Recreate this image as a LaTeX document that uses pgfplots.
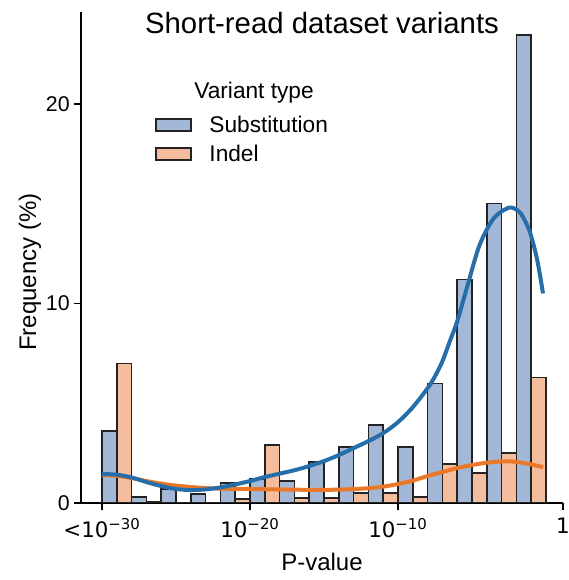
\documentclass[border=0pt]{standalone}
\usepackage{fontspec}
\setmainfont{Liberation Sans}
\newfontfamily\dejavu{DejaVu Sans}
\usepackage{pgfplots}
\pgfplotsset{compat=1.18}
\definecolor{subfill}{RGB}{162,184,214}
\definecolor{indfill}{RGB}{244,190,158}
\definecolor{subline}{RGB}{37,110,170}
\definecolor{indline}{RGB}{235,120,40}
\definecolor{edge}{RGB}{35,35,35}
\begin{document}
\begin{tikzpicture}
\begin{axis}[
  name=ax,
  scale only axis, width=361.5pt, height=368.25pt,
  xmin=-31.42, xmax=1.15, ymin=0, ymax=24.6,
  axis lines*=left,
  axis line style={-, line width=1.1pt, black},
  tick style={line width=1.1pt, black},
  tick align=outside, major tick length=5pt,
  xtick={-30,-20,-10,1.15},
  xticklabels={<10\textsuperscript{−30},10\textsuperscript{−20},10\textsuperscript{−10},1},
  xticklabel style={font=\dejavu\fontsize{16}{19}\selectfont, yshift=-3pt},
  ytick={0,10,20},
  yticklabel style={font=\fontsize{16}{19}\selectfont},
  /pgf/number format/assume math mode=true,
  title={Short-read dataset variants},
  title style={at={(axis description cs:0.5,1)}, anchor=north, yshift=-3pt, font=\fontsize{22}{26}\selectfont},
  xlabel={P-value},
  ylabel={Frequency (\%)},
  xlabel style={font=\fontsize{18}{21}\selectfont, yshift=-4pt},
  ylabel style={font=\fontsize{18}{21}\selectfont, at={(axis description cs:-0.106,0.47)}, anchor=center},
  legend style={draw=none, fill=none, at={(axis description cs:0.1535,0.793)}, anchor=north west,
    font=\fontsize{17}{20}\selectfont, row sep=5pt, inner sep=0pt,
    nodes={inner sep=1.5pt}, cells={anchor=west}},
]
\addplot[ybar, bar width=1, bar shift=0pt, fill=subfill, draw=edge, line width=1.1pt,
  legend image code/.code={\draw[fill=subfill, draw=edge, line width=1.2pt] (0pt,-4.5pt) rectangle (26pt,4.5pt); \path (38pt,0pt);}]
coordinates {(-29.5,3.6) (-27.5,0.3) (-25.5,0.7) (-23.5,0.45) (-21.5,1.0) (-19.5,1.2) (-17.5,1.1) (-15.5,2.05) (-13.5,2.8) (-11.5,3.9) (-9.5,2.8) (-7.5,6.0) (-5.5,11.2) (-3.5,15.0) (-1.5,23.45)};
\addlegendentry{Substitution}
\addplot[ybar, bar width=1, bar shift=0pt, fill=indfill, draw=edge, line width=1.1pt,
  legend image code/.code={\draw[fill=indfill, draw=edge, line width=1.2pt] (0pt,-4.5pt) rectangle (26pt,4.5pt); \path (38pt,0pt);}]
coordinates {(-28.5,7.0) (-26.5,0.07) (-24.5,0) (-22.5,0) (-20.5,0.2) (-18.5,2.9) (-16.5,0.25) (-14.5,0.25) (-12.5,0.5) (-10.5,0.5) (-8.5,0.3) (-6.5,1.95) (-4.5,1.5) (-2.5,2.5) (-0.5,6.3)};
\addlegendentry{Indel}
\addplot[forget plot, smooth, indline, line width=3pt] coordinates {
(-30,1.4) (-29,1.36) (-28,1.25) (-27,1.1) (-26,0.97) (-25,0.87) (-24,0.8) (-23,0.75) (-22,0.72) (-20,0.7) (-18,0.68) (-16,0.66) (-14,0.67) (-12,0.74) (-11,0.82) (-10,0.95) (-9,1.12) (-8,1.35) (-7,1.55) (-6,1.75) (-5,1.9) (-4,2.02) (-3,2.08) (-2.3,2.08) (-1.5,2.0) (-0.8,1.9) (-0.2,1.8)};
\addplot[forget plot, smooth, subline, line width=3pt] coordinates {
(-30,1.45) (-29,1.42) (-28,1.28) (-27,1.05) (-26,0.85) (-25,0.7) (-24,0.65) (-23,0.68) (-22,0.78) (-21,0.93) (-20,1.1) (-19,1.3) (-18,1.47) (-17,1.64) (-16,1.85) (-15,2.1) (-14,2.4) (-13,2.75) (-12,3.1) (-11,3.5) (-10,4.05) (-9,4.8) (-8,5.75) (-7.5,6.35) (-7,7.1) (-6.5,8.1) (-6,9.1) (-5.3,10.9) (-4.5,12.9) (-3.6,14.2) (-2.8,14.7) (-2.3,14.8) (-1.7,14.5) (-1.1,13.6) (-0.6,12.2) (-0.2,10.5)};
\node[font=\fontsize{17}{20}\selectfont] at (rel axis cs:0.359,0.835) {Variant type};
\end{axis}
\pgfresetboundingbox
\path[use as bounding box] ([shift={(-60.75pt,-57.75pt)}]ax.south west) rectangle ([shift={(3.75pt,9pt)}]ax.north east);
\end{tikzpicture}
\end{document}
